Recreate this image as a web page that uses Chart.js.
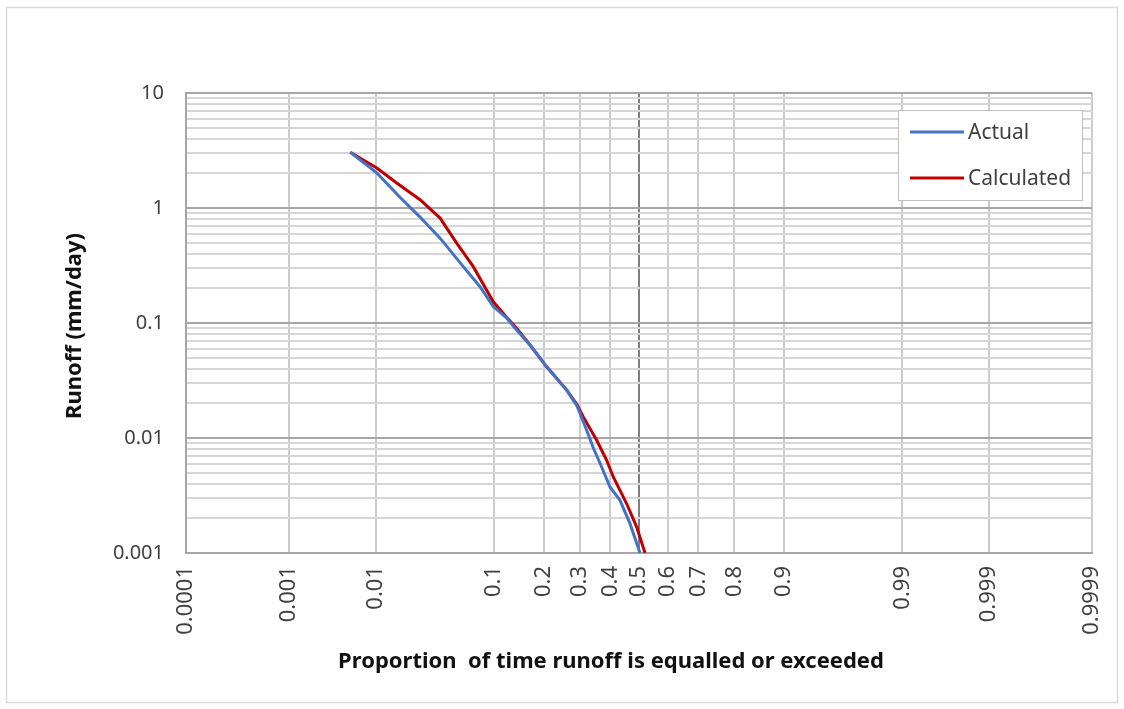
<!DOCTYPE html>
<html>
<head>
<meta charset="utf-8">
<script src="https://cdn.jsdelivr.net/npm/chart.js@4.4.1/dist/chart.umd.min.js"></script>
<style>
  html, body { margin: 0; padding: 0; background: #fff; }
</style>
</head>
<body>
<canvas id="grafico" width="1124" height="709"></canvas>
<script>
// --- DATA (probability of exceedance, runoff in mm/day) ---
const actualProb   = [0.0054, 0.0103, 0.0174, 0.0266, 0.0395, 0.0604, 0.0802, 0.0991, 0.120, 0.140, 0.168, 0.2075, 0.2617, 0.292, 0.322, 0.3440, 0.3654, 0.399, 0.4334, 0.4683, 0.5035];
const actualRunoff = [3.05, 2.02, 1.24, 0.834, 0.547, 0.309, 0.207, 0.139, 0.112, 0.0869, 0.0643, 0.0416, 0.0261, 0.0190, 0.01168, 0.0081, 0.00603, 0.00375, 0.00287, 0.0018, 0.001];

const calcProb   = [0.0054, 0.0103, 0.0162, 0.0266, 0.0395, 0.0537, 0.0717, 0.0991, 0.120, 0.140, 0.168, 0.2075, 0.2617, 0.292, 0.3114, 0.3544, 0.3877, 0.4102, 0.4568, 0.4919, 0.5211];
const calcRunoff = [3.05, 2.23, 1.65, 1.18, 0.817, 0.495, 0.309, 0.153, 0.114, 0.0899, 0.0643, 0.0416, 0.0261, 0.0195, 0.01526, 0.00956, 0.0064, 0.00458, 0.00268, 0.00168, 0.001];

const xTickLabels = ['0.0001', '0.001', '0.01', '0.1', '0.2', '0.3', '0.4', '0.5', '0.6', '0.7', '0.8', '0.9', '0.99', '0.999', '0.9999'];
const yTickLabels = ['0.001', '0.01', '0.1', '1', '10'];

const seriesNames = ['Actual', 'Calculated'];
const xTitle = 'Proportion  of time runoff is equalled or exceeded';
const yTitle = 'Runoff (mm/day)';

// eixo x em desvios normais (papel de probabilidade), de -4 a 4
const X_MIN = -4, X_MAX = 4;

// inversa da normal padrão (Acklam)
function probit(p) {
    const a = [-39.69683028665376, 220.9460984245205, -275.9285104469687, 138.3577518672690, -30.66479806614716, 2.506628277459239];
    const b = [-54.47609879822406, 161.5858368580409, -155.6989798598866, 66.80131188771972, -13.28068155288572];
    const c = [-0.007784894002430293, -0.3223964580411365, -2.400758277161838, -2.549732539343734, 4.374664141464968, 2.938163982698783];
    const d = [0.007784695709041462, 0.3224671290700398, 2.445134137142996, 3.754408661907416];
    const pl = 0.02425;
    let q, r;
    if (p < pl) {
        q = Math.sqrt(-2 * Math.log(p));
        return (((((c[0]*q+c[1])*q+c[2])*q+c[3])*q+c[4])*q+c[5]) / ((((d[0]*q+d[1])*q+d[2])*q+d[3])*q+1);
    }
    if (p > 1 - pl) {
        q = Math.sqrt(-2 * Math.log(1 - p));
        return -(((((c[0]*q+c[1])*q+c[2])*q+c[3])*q+c[4])*q+c[5]) / ((((d[0]*q+d[1])*q+d[2])*q+d[3])*q+1);
    }
    q = p - 0.5; r = q * q;
    return (((((a[0]*r+a[1])*r+a[2])*r+a[3])*r+a[4])*r+a[5])*q / (((((b[0]*r+b[1])*r+b[2])*r+b[3])*r+b[4])*r+1);
}

function toPoints(probs, vals) {
    return probs.map((p, i) => ({ x: probit(p), y: vals[i] }));
}

// the end labels sit on the axis limits
function xTickValue(label, i) {
    if (i === 0) return X_MIN;
    if (i === xTickLabels.length - 1) return X_MAX;
    return probit(parseFloat(label));
}

function isDecade(v) {
    const l = Math.log10(v);
    return Math.abs(l - Math.round(l)) < 1e-9;
}

const FONT = '"Noto Sans", "Liberation Sans", sans-serif';

const extras = {
    id: 'extras',
    beforeDraw(chart) {
        const c = chart.ctx;
        c.save();
        c.fillStyle = '#fff';
        c.fillRect(0, 0, chart.width, chart.height);
        c.strokeStyle = '#d9d9d9';
        c.lineWidth = 1.5;
        c.strokeRect(6.5, 7.5, 1111, 695);
        c.restore();
    },
    afterDraw(chart) {
        const c = chart.ctx;
        c.save();
        c.fillStyle = '#111';
        c.font = 'bold 22px ' + FONT;
        c.textAlign = 'center';
        c.textBaseline = 'middle';
        c.fillText(xTitle, 611, 662);
        c.translate(75, 326);
        c.rotate(-Math.PI / 2);
        c.fillText(yTitle, 0, 0);
        c.restore();

        // legenda
        c.save();
        c.fillStyle = '#fff';
        c.fillRect(898.5, 110.5, 184, 90);
        c.strokeStyle = '#bfbfbf';
        c.lineWidth = 1;
        c.strokeRect(898.5, 110.5, 184, 90);
        c.font = '21px ' + FONT;
        c.textAlign = 'left';
        c.textBaseline = 'middle';
        chart.data.datasets.forEach((ds, i) => {
            const y = 132 + i * 46;
            c.strokeStyle = ds.borderColor;
            c.lineWidth = 3;
            c.beginPath();
            c.moveTo(910, y);
            c.lineTo(964, y);
            c.stroke();
            c.fillStyle = '#404040';
            c.fillText(ds.label, 968, y + 1);
        });
        c.restore();
    }
};

new Chart(document.getElementById('grafico').getContext('2d'), {
    type: 'line',
    data: {
        datasets: [
            { label: seriesNames[0], data: toPoints(actualProb, actualRunoff), borderColor: '#4472c4', borderWidth: 3, pointRadius: 0, tension: 0 },
            { label: seriesNames[1], data: toPoints(calcProb, calcRunoff), borderColor: '#c00000', borderWidth: 3, pointRadius: 0, tension: 0 }
        ]
    },
    options: {
        responsive: false,
        animation: false,
        layout: { padding: { left: 0, top: 93, right: 32, bottom: 0 } },
        plugins: { legend: { display: false }, tooltip: { enabled: false } },
        scales: {
            x: {
                type: 'linear',
                min: X_MIN,
                max: X_MAX,
                afterBuildTicks: axis => { axis.ticks = xTickLabels.map((l, i) => ({ value: xTickValue(l, i) })); },
                afterFit: axis => { axis.height = 156; axis.paddingLeft = 0; axis.paddingRight = 0; },
                ticks: {
                    autoSkip: false,
                    minRotation: 90,
                    maxRotation: 90,
                    padding: 13,
                    color: '#404040',
                    font: { family: FONT, size: 22 },
                    callback: (v, i) => xTickLabels[i]
                },
                grid: {
                    drawTicks: false,
                    lineWidth: 2,
                    color: ctx => (ctx.tick && Math.abs(ctx.tick.value) < 1e-9) ? '#7f7f7f' : '#cccccc'
                },
                border: { color: '#a6a6a6', width: 2 }
            },
            y: {
                type: 'logarithmic',
                min: 0.001,
                max: 10,
                afterBuildTicks: axis => {
                    const t = [];
                    yTickLabels.forEach((l, i) => {
                        const base = parseFloat(l);
                        if (i === yTickLabels.length - 1) { t.push({ value: base }); return; }
                        for (let k = 1; k <= 9; k++) t.push({ value: base * k });
                    });
                    axis.ticks = t;
                },
                afterFit: axis => { axis.width = 186; axis.paddingTop = 0; axis.paddingBottom = 0; },
                ticks: {
                    autoSkip: false,
                    padding: 22,
                    color: '#404040',
                    font: { family: FONT, size: 20 },
                    callback: v => {
                        if (!isDecade(v)) return '';
                        const idx = yTickLabels.findIndex(l => Math.abs(parseFloat(l) - v) / v < 1e-6);
                        return idx >= 0 ? yTickLabels[idx] : '';
                    }
                },
                grid: {
                    drawTicks: false,
                    lineWidth: 2,
                    color: ctx => (ctx.tick && isDecade(ctx.tick.value)) ? '#a6a6a6' : '#d6d6d6'
                },
                border: { color: '#a6a6a6', width: 2 }
            }
        }
    },
    plugins: [extras]
});
</script>
</body>
</html>
